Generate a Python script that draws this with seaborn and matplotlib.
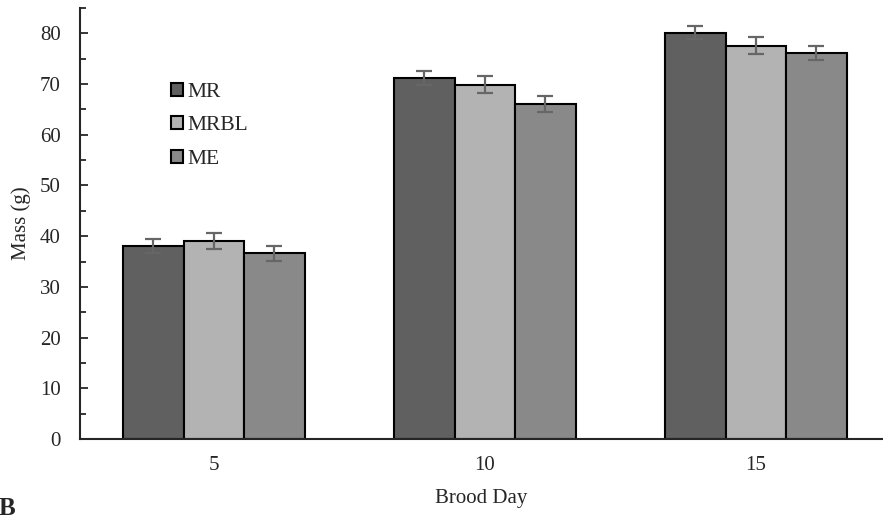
import pandas as pd
import seaborn as sns
import matplotlib.pyplot as plt
from matplotlib.ticker import MultipleLocator

# values
days = ["5", "10", "15"]
groups = ["MR", "MRBL", "ME"]
mr_mass = [38.0, 71.2, 80.1]
mrbl_mass = [39.0, 69.9, 77.6]
me_mass = [36.6, 66.0, 76.1]
mr_err = [1.35, 1.3, 1.3]
mrbl_err = [1.55, 1.6, 1.6]
me_err = [1.55, 1.55, 1.45]
colors = ["#606060", "#b3b3b3", "#898989"]

df = pd.DataFrame({
    "day": days * 3,
    "group": [g for g in groups for _ in days],
    "mass": mr_mass + mrbl_mass + me_mass,
    "err": mr_err + mrbl_err + me_err,
})

sns.set_style("ticks")
plt.rcParams["font.family"] = ["Liberation Serif", "DejaVu Serif"]

fig = plt.figure(figsize=(8.83, 5.16), dpi=100)
ax = fig.add_axes([80 / 883, 77 / 516, 803 / 883, 431 / 516])

sns.barplot(data=df, x="day", y="mass", hue="group",
            order=days, hue_order=groups, palette=colors, width=0.67,
            errorbar=None, edgecolor="black", linewidth=1.5, ax=ax)

# error bars on top of each bar, placed from the bar patches
for cont, g in zip(ax.containers, groups):
    sub = df[df["group"] == g].set_index("day").loc[days]
    xs = [b.get_x() + b.get_width() / 2 for b in cont]
    ax.errorbar(xs, sub["mass"], yerr=sub["err"], fmt="none", ecolor="#666666",
                elinewidth=1.6, capsize=5.5, capthick=1.6, zorder=5)

ax.set_ylim(0, 85)
ax.set_xlim(-0.494, 2.469)
ax.yaxis.set_major_locator(MultipleLocator(10))
ax.yaxis.set_minor_locator(MultipleLocator(5))
ax.set_yticks(range(0, 90, 10))
ax.tick_params(axis="y", which="major", direction="in", length=6, width=1.3,
               labelsize=15, pad=14)
ax.tick_params(axis="y", which="minor", direction="in", length=4, width=1.3)
ax.tick_params(axis="x", which="major", direction="in", length=4, width=1.3,
               labelsize=15, pad=12)
sns.despine(ax=ax)
ax.spines["left"].set_linewidth(1.5)
ax.spines["bottom"].set_linewidth(1.5)

ax.set_xlabel("Brood Day", fontsize=15, labelpad=10)
ax.set_ylabel("Mass (g)", fontsize=15, labelpad=6)

leg = ax.legend(loc="upper left", bbox_to_anchor=(0.1, 0.852), frameon=False,
                fontsize=15.5, handlelength=0.55, handleheight=0.55,
                handletextpad=0.2, labelspacing=0.68, borderpad=0)
for h in leg.legend_handles:
    h.set_edgecolor("black")
    h.set_linewidth(1.5)

fig.text(-0.002, 0.036, "B", fontsize=18, fontweight="bold", va="top", ha="left")

fig.savefig("out.png", dpi=100)
